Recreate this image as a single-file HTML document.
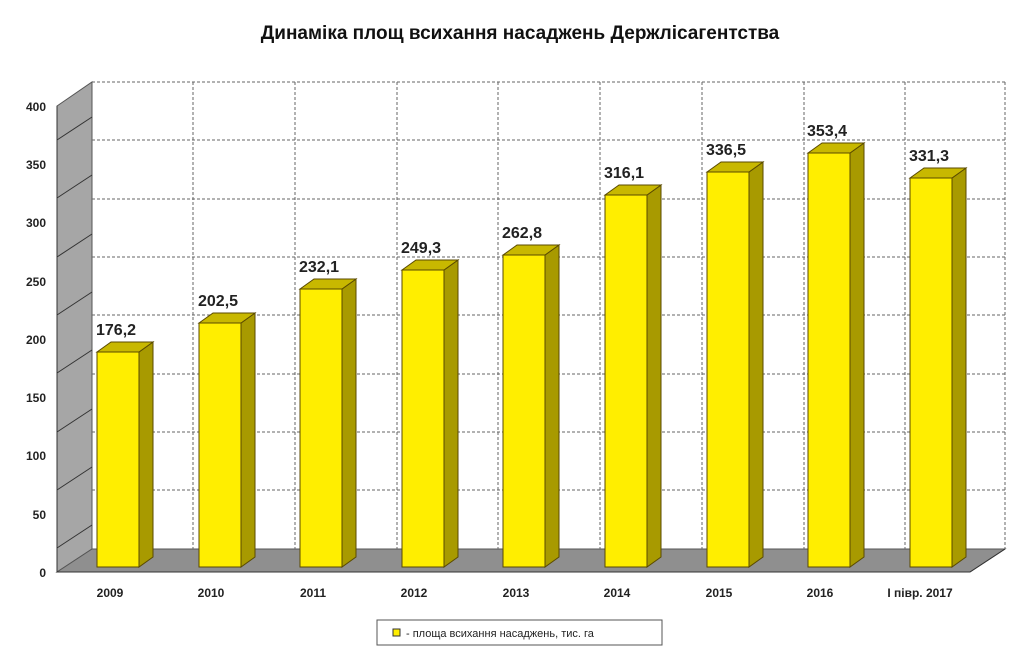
<!DOCTYPE html>
<html><head><meta charset="utf-8"><style>body{margin:0;background:#fff}</style></head><body>
<svg width="1024" height="656" xmlns="http://www.w3.org/2000/svg" font-family="Liberation Sans, sans-serif">
<rect width="1024" height="656" fill="#fff"/>
<text x="520" y="39" text-anchor="middle" font-size="19" font-weight="bold" fill="#111">Динаміка площ всихання насаджень Держлісагентства</text>
<polygon points="57,106 92,82 92,549 57,572" fill="#a6a6a6" stroke="#555" stroke-width="1"/>
<polygon points="57,572 92,549 1005,549 970,572" fill="#8f8f8f" stroke="#555" stroke-width="1"/>
<g stroke="#666" stroke-width="1" stroke-dasharray="3,2" fill="none">
<line x1="92" y1="82" x2="1005" y2="82"/><line x1="92" y1="140" x2="1005" y2="140"/>
<line x1="92" y1="199" x2="1005" y2="199"/><line x1="92" y1="257" x2="1005" y2="257"/>
<line x1="92" y1="315" x2="1005" y2="315"/><line x1="92" y1="374" x2="1005" y2="374"/>
<line x1="92" y1="432" x2="1005" y2="432"/><line x1="92" y1="490" x2="1005" y2="490"/>
<line x1="193" y1="82" x2="193" y2="549"/><line x1="295" y1="82" x2="295" y2="549"/>
<line x1="397" y1="82" x2="397" y2="549"/><line x1="498" y1="82" x2="498" y2="549"/>
<line x1="600" y1="82" x2="600" y2="549"/><line x1="702" y1="82" x2="702" y2="549"/>
<line x1="804" y1="82" x2="804" y2="549"/><line x1="905" y1="82" x2="905" y2="549"/>
<line x1="1005" y1="82" x2="1005" y2="549"/>
</g>
<g stroke="#333" stroke-width="1">
<line x1="57" y1="140" x2="92" y2="117"/><line x1="57" y1="198" x2="92" y2="175"/>
<line x1="57" y1="257" x2="92" y2="234"/><line x1="57" y1="315" x2="92" y2="292"/>
<line x1="57" y1="373" x2="92" y2="350"/><line x1="57" y1="432" x2="92" y2="409"/>
<line x1="57" y1="490" x2="92" y2="467"/><line x1="57" y1="548" x2="92" y2="525"/>
<line x1="57" y1="106" x2="57" y2="572"/><line x1="57" y1="572" x2="970" y2="572"/>
<line x1="970" y1="572" x2="1005" y2="549"/>
</g>
<g font-size="12" font-weight="bold" fill="#222" text-anchor="end">
<text x="46" y="111">400</text><text x="46" y="169">350</text><text x="46" y="227">300</text>
<text x="46" y="286">250</text><text x="46" y="344">200</text><text x="46" y="402">150</text>
<text x="46" y="460">100</text><text x="46" y="519">50</text><text x="46" y="577">0</text>
</g>
<g stroke="#5a4a00" stroke-width="1">
<polygon points="139,352 153,342 153,557 139,567" fill="#a89a00"/><polygon points="97,352 111,342 153,342 139,352" fill="#c8b800"/><rect x="97" y="352" width="42" height="215" fill="#ffee00"/>
<polygon points="241,323 255,313 255,557 241,567" fill="#a89a00"/><polygon points="199,323 213,313 255,313 241,323" fill="#c8b800"/><rect x="199" y="323" width="42" height="244" fill="#ffee00"/>
<polygon points="342,289 356,279 356,557 342,567" fill="#a89a00"/><polygon points="300,289 314,279 356,279 342,289" fill="#c8b800"/><rect x="300" y="289" width="42" height="278" fill="#ffee00"/>
<polygon points="444,270 458,260 458,557 444,567" fill="#a89a00"/><polygon points="402,270 416,260 458,260 444,270" fill="#c8b800"/><rect x="402" y="270" width="42" height="297" fill="#ffee00"/>
<polygon points="545,255 559,245 559,557 545,567" fill="#a89a00"/><polygon points="503,255 517,245 559,245 545,255" fill="#c8b800"/><rect x="503" y="255" width="42" height="312" fill="#ffee00"/>
<polygon points="647,195 661,185 661,557 647,567" fill="#a89a00"/><polygon points="605,195 619,185 661,185 647,195" fill="#c8b800"/><rect x="605" y="195" width="42" height="372" fill="#ffee00"/>
<polygon points="749,172 763,162 763,557 749,567" fill="#a89a00"/><polygon points="707,172 721,162 763,162 749,172" fill="#c8b800"/><rect x="707" y="172" width="42" height="395" fill="#ffee00"/>
<polygon points="850,153 864,143 864,557 850,567" fill="#a89a00"/><polygon points="808,153 822,143 864,143 850,153" fill="#c8b800"/><rect x="808" y="153" width="42" height="414" fill="#ffee00"/>
<polygon points="952,178 966,168 966,557 952,567" fill="#a89a00"/><polygon points="910,178 924,168 966,168 952,178" fill="#c8b800"/><rect x="910" y="178" width="42" height="389" fill="#ffee00"/>
</g>
<g font-size="16" font-weight="bold" fill="#222">
<text x="96" y="335">176,2</text><text x="198" y="306">202,5</text><text x="299" y="272">232,1</text>
<text x="401" y="253">249,3</text><text x="502" y="238">262,8</text><text x="604" y="178">316,1</text>
<text x="706" y="155">336,5</text><text x="807" y="136">353,4</text><text x="909" y="161">331,3</text>
</g>
<g font-size="12" font-weight="bold" fill="#222" text-anchor="middle">
<text x="110" y="597">2009</text><text x="211" y="597">2010</text><text x="313" y="597">2011</text>
<text x="414" y="597">2012</text><text x="516" y="597">2013</text><text x="617" y="597">2014</text>
<text x="719" y="597">2015</text><text x="820" y="597">2016</text><text x="920" y="597">І півр. 2017</text>
</g>
<rect x="377" y="620" width="285" height="25" fill="#fff" stroke="#555"/>
<rect x="393" y="629" width="7" height="7" fill="#ffee00" stroke="#333"/>
<text x="406" y="637" font-size="11" fill="#222">- площа всихання насаджень, тис. га</text>
</svg>
</body></html>
